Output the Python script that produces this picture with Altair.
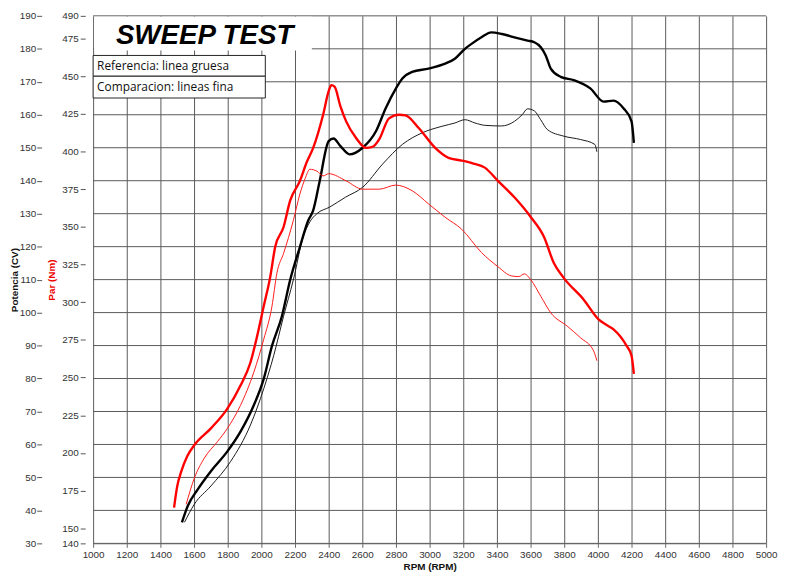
import altair as alt
import pandas as pd

# ---------------- data ----------------
title_text = "SWEEP TEST"
legend_texts = ["Referencia: linea gruesa", "Comparacion: lineas fina"]

rpm_ticks = list(range(1000, 5001, 200))
pot_ticks = list(range(30, 191, 10))
par_ticks = [140, 150, 175, 200, 225, 250, 275, 300, 325, 350, 375, 400, 425, 450, 475, 490]

# Potencia (CV) - reference (thick black)
pot_ref_rpm = [1528, 1563, 1622, 1700, 1798, 1876, 1955, 2014, 2063, 2122, 2171, 2229, 2279, 2308, 2347,
               2400, 2429, 2470, 2524, 2602, 2681, 2739, 2800, 2838, 2896, 2994, 3092, 3150, 3210, 3249,
               3308, 3367, 3430, 3504, 3582, 3622, 3661, 3690, 3720, 3779, 3857, 3955, 4034, 4093, 4152,
               4200, 4214]
pot_ref_cv = [36.4, 41.4, 46.4, 51.9, 57.9, 63.9, 71.9, 79.9, 89.9, 98.9, 109.9, 119.9, 128, 131, 140,
              152, 152.8, 150.5, 148, 150, 155, 162, 168, 171, 173, 174, 175.5, 177, 180, 181.5,
              183.5, 185, 184.5, 183.5, 182.5, 182, 180.5, 178, 174, 171.5, 170.5, 168, 164, 164.3, 162,
              158, 151.5]

# Potencia (CV) - comparison (thin black)
pot_cmp_rpm = [1543, 1602, 1700, 1818, 1935, 2014, 2073, 2132, 2190, 2249, 2288, 2330, 2406, 2500, 2602,
               2720, 2838, 2955, 3073, 3150, 3210, 3270, 3328, 3426, 3504, 3550, 3582, 3622, 3660, 3700,
               3798, 3896, 3982, 3994]
pot_cmp_cv = [36.4, 41.9, 47.4, 54.9, 65.9, 76.9, 86.9, 98.9, 109.9, 123, 127.5, 130, 132, 135, 138,
              145, 151, 154.5, 156.5, 157.5, 158.5, 157.5, 156.8, 156.6, 158, 160, 161.8, 161.2, 158.5, 155.5,
              153.5, 152.5, 151, 148.8]

# Par (Nm) - reference (thick red)
par_ref_rpm = [1481, 1500, 1524, 1560, 1602, 1700, 1798, 1876, 1935, 1975, 2014, 2053, 2082, 2132, 2171,
               2229, 2270, 2308, 2367, 2400, 2416, 2435, 2470, 2504, 2563, 2622, 2660, 2700, 2759, 2818,
               2857, 2935, 3033, 3112, 3190, 3260, 3328, 3406, 3504, 3602, 3680, 3739, 3798, 3916, 4004,
               4050, 4093, 4171, 4200, 4214]
par_ref_nm = [163.7, 178, 187.8, 198, 205.3, 216.3, 229.4, 244.7, 260, 277.6, 297.3, 317, 336.7, 349.9, 367.4,
              380.5, 393, 402.4, 424.4, 440, 444, 443, 430, 420, 409, 402.4, 403, 408, 422, 424.4,
              424, 415.6, 402.4, 395.8, 394, 392, 389.3, 380.5, 369.6, 356.4, 343.3, 325.8, 316, 301.7, 288.6,
              285, 282, 271, 264.5, 252.4]

# Par (Nm) - comparison (thin red)
par_cmp_rpm = [1553, 1602, 1661, 1739, 1798, 1876, 1955, 2014, 2063, 2092, 2132, 2190, 2229, 2260, 2288,
               2330, 2367, 2400, 2504, 2602, 2700, 2798, 2896, 2994, 3092, 3190, 3308, 3406, 3485, 3530,
               3563, 3602, 3661, 3720, 3818, 3896, 3975, 3994]
par_cmp_nm = [165.9, 183.4, 196.6, 207.5, 216.3, 231.6, 253.5, 275.4, 297.3, 319.2, 332.4, 354.3, 371.8, 382, 388.2,
              387, 383.8, 385.3, 380.5, 375, 375, 377.7, 374, 365.2, 356.4, 348.5, 333, 323.6, 317.5, 317,
              318.8, 314.8, 303.9, 293, 284.1, 276.5, 267.7, 261.2]

# ---------------- frames ----------------
df_pot_ref = pd.DataFrame({"rpm": pot_ref_rpm, "cv": pot_ref_cv})
df_pot_cmp = pd.DataFrame({"rpm": pot_cmp_rpm, "cv": pot_cmp_cv})
df_par_ref = pd.DataFrame({"rpm": par_ref_rpm, "nm": par_ref_nm})
df_par_cmp = pd.DataFrame({"rpm": par_cmp_rpm, "nm": par_cmp_nm})
df_hgrid = pd.DataFrame({"cv": pot_ticks})
df_one = pd.DataFrame({"a": [0]})

W, H = 680, 533
FONT = "Liberation Sans"

x_scale = alt.Scale(domain=[1000, 5000], nice=False, zero=False)
pot_scale = alt.Scale(domain=[30, 190], nice=False, zero=False)
par_scale = alt.Scale(domain=[140, 490], nice=False, zero=False)

x_axis = alt.Axis(values=rpm_ticks, format="d", grid=True, gridColor="#5a5a5a", gridWidth=1, gridOpacity=1,
                  domainColor="#888888", tickColor="#666666", tickSize=4, labelPadding=2,
                  labelFont=FONT, labelFontSize=10, labelColor="#333333",
                  title="RPM (RPM)", titleFont=FONT, titleFontSize=10, titleFontWeight="bold",
                  titleColor="#111111", titlePadding=2, labelFlush=False)

pot_axis = alt.Axis(values=pot_ticks, orient="left", offset=52, grid=False, domain=False,
                    tickColor="#555555", tickSize=5, labelPadding=1,
                    labelFont=FONT, labelFontSize=10, labelColor="#333333",
                    title="Potencia (CV)", titleFont=FONT, titleFontSize=10, titleFontWeight="bold",
                    titleColor="#111111", titlePadding=0, labelFlush=False)

par_axis = alt.Axis(values=par_ticks, orient="left", offset=8, grid=False, domain=False,
                    tickColor="#555555", tickSize=5, labelPadding=2,
                    labelFont=FONT, labelFontSize=10, labelColor="#333333",
                    title="Par (Nm)", titleFont=FONT, titleFontSize=10, titleFontWeight="bold",
                    titleColor="#ee0000", titlePadding=5, labelFlush=False)


def xenc():
    return alt.X("rpm:Q", scale=x_scale, axis=x_axis)


def ypot(field):
    return alt.Y(field, type="quantitative", scale=pot_scale, axis=pot_axis)


def ypar(field):
    return alt.Y(field, type="quantitative", scale=par_scale, axis=par_axis)


hgrid = alt.Chart(df_hgrid).mark_rule(color="#5a5a5a", strokeWidth=1).encode(y=ypot("cv"))

title_box = alt.Chart(df_one).mark_rect(fill="white", stroke=None).encode(
    x=alt.value(1), x2=alt.value(221), y=alt.value(1), y2=alt.value(35))
title_mark = alt.Chart(df_one).mark_text(
    text=title_text, align="left", baseline="alphabetic", font=FONT, fontSize=28,
    fontStyle="italic", fontWeight="bold", color="black").encode(x=alt.value(23), y=alt.value(28))

leg_box1 = alt.Chart(df_one).mark_rect(fill="white", stroke="#222222", strokeWidth=1).encode(
    x=alt.value(0), x2=alt.value(174), y=alt.value(40), y2=alt.value(61))
leg_box2 = alt.Chart(df_one).mark_rect(fill="white", stroke="#222222", strokeWidth=1).encode(
    x=alt.value(0), x2=alt.value(174), y=alt.value(61), y2=alt.value(83))
leg_t1 = alt.Chart(df_one).mark_text(
    text=legend_texts[0], align="left", baseline="middle", font="Open Sans", fontSize=12,
    color="#111111").encode(x=alt.value(4), y=alt.value(50.5))
leg_t2 = alt.Chart(df_one).mark_text(
    text=legend_texts[1], align="left", baseline="middle", font="Open Sans", fontSize=12,
    color="#111111").encode(x=alt.value(4), y=alt.value(72))

pot_ref_line = alt.Chart(df_pot_ref).mark_line(color="black", strokeWidth=2.4, interpolate="monotone").encode(
    x=xenc(), y=ypot("cv"))
pot_cmp_line = alt.Chart(df_pot_cmp).mark_line(color="#1a1a1a", strokeWidth=1, interpolate="monotone").encode(
    x=xenc(), y=ypot("cv"))
par_ref_line = alt.Chart(df_par_ref).mark_line(color="#ff0000", strokeWidth=2.4, interpolate="monotone").encode(
    x=xenc(), y=ypar("nm"))
par_cmp_line = alt.Chart(df_par_cmp).mark_line(color="#ff1a1a", strokeWidth=1, interpolate="monotone").encode(
    x=xenc(), y=ypar("nm"))

pot_group = alt.layer(hgrid, title_box, title_mark, leg_box1, leg_box2, leg_t1, leg_t2,
                      pot_cmp_line, pot_ref_line)
par_group = alt.layer(par_cmp_line, par_ref_line)

chart = alt.layer(pot_group, par_group).resolve_scale(y="independent").properties(
    width=W, height=H,
    autosize=alt.AutoSizeParams(type="none"),
    padding={"left": 86, "top": 5, "right": 12, "bottom": 27},
    background="white",
).configure_view(stroke=None)

chart.save("out.html", embed_options={"renderer": "svg", "actions": False})
